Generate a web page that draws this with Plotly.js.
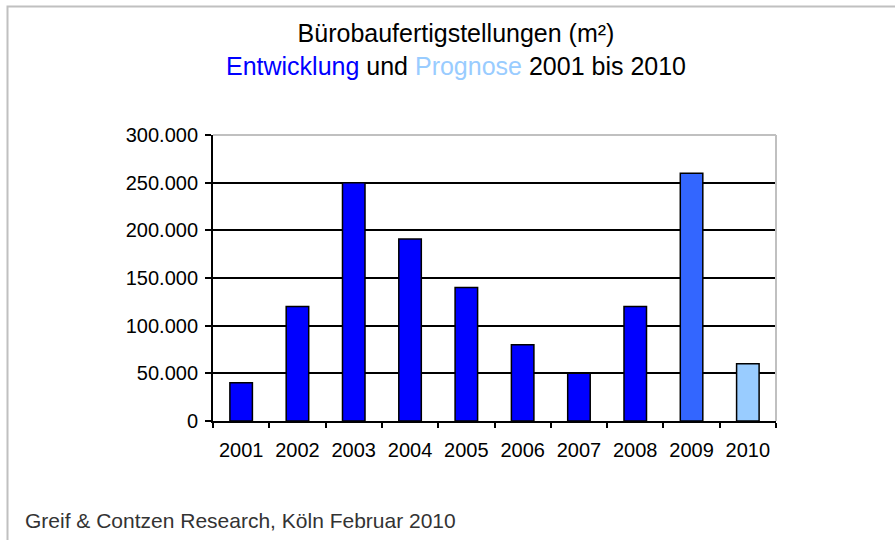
<!DOCTYPE html>
<html>
<head>
<meta charset="utf-8">
<script src="https://cdn.plot.ly/plotly-3.0.1.min.js"></script>
<style>html,body{margin:0;padding:0;background:#fff;}#chart{width:895px;height:540px;}</style>
</head>
<body>
<div id="chart"></div>
<script>
// Data
var years = ['2001','2002','2003','2004','2005','2006','2007','2008','2009','2010'];
var values = [40000, 120000, 250000, 191000, 140000, 80000, 50000, 120000, 260000, 60000];
var barColors = ['#0000FF','#0000FF','#0000FF','#0000FF','#0000FF','#0000FF','#0000FF','#0000FF','#3366FF','#99CCFF'];
var yTicks = [0, 50000, 100000, 150000, 200000, 250000, 300000];

var W = 895, H = 540;
var L = 213, R = 776, T = 135, B = 421;
var pw = R - L, ph = B - T;
function px(x){ return (x - L) / pw; }
function py(y){ return (B - y) / ph; }

var font = 'Liberation Sans, Arial, Helvetica, sans-serif';

var trace = {
  type: 'bar',
  x: years,
  y: values,
  marker: { color: barColors, line: { color: '#000000', width: 1.5 } },
  hoverinfo: 'x+y'
};

var layout = {
  width: W, height: H,
  margin: { l: L, r: W - R, t: T, b: H - B, pad: 0 },
  paper_bgcolor: '#ffffff',
  plot_bgcolor: '#ffffff',
  separators: ',.',
  showlegend: false,
  bargap: 0.6,
  font: { family: font, color: '#000000' },
  title: {
    text: 'Bürobaufertigstellungen (m²)<br><span style="color:#0000FF">Entwicklung</span> und <span style="color:#99CCFF">Prognose</span> 2001 bis 2010',
    font: { family: font, size: 25, color: '#000000' },
    xref: 'container', x: 456 / W, xanchor: 'center',
    yref: 'container', y: 1 - 42 / H, yanchor: 'top'
  },
  xaxis: {
    type: 'category',
    showline: true, linecolor: '#000000', linewidth: 2,
    ticks: 'outside', ticklen: 5, tickwidth: 2, tickcolor: '#000000',
    tickson: 'boundaries',
    showgrid: false, zeroline: false,
    tickfont: { family: font, size: 20, color: '#000000' },
    ticklabelstandoff: 10
  },
  yaxis: {
    range: [0, 300000],
    tickvals: yTicks,
    tickformat: ',d',
    showline: true, linecolor: '#000000', linewidth: 2,
    ticks: 'outside', ticklen: 6, tickwidth: 2, tickcolor: '#000000',
    showgrid: true, gridcolor: '#000000', gridwidth: 2,
    zeroline: false,
    tickfont: { family: font, size: 20, color: '#000000' },
    ticklabelstandoff: 3
  },
  shapes: [
    // outer frame (top + left visible)
    { type: 'rect', xref: 'paper', yref: 'paper', x0: px(7.5), x1: px(905), y0: py(550), y1: py(6.5),
      line: { color: '#C0C0C0', width: 2 }, fillcolor: 'rgba(0,0,0,0)', layer: 'above' },
    // plot area top border
    { type: 'line', xref: 'paper', yref: 'paper', x0: 0, x1: 1, y0: 1, y1: 1,
      line: { color: '#C0C0C0', width: 2 }, layer: 'above' },
    // plot area right border
    { type: 'line', xref: 'paper', yref: 'paper', x0: 1, x1: 1, y0: 0, y1: 1,
      line: { color: '#C0C0C0', width: 2 }, layer: 'above' }
  ],
  annotations: [
    { text: 'Greif & Contzen Research, Köln Februar 2010', xref: 'paper', yref: 'paper',
      x: px(23), xanchor: 'left', y: py(520), yanchor: 'middle', showarrow: false,
      font: { family: font, size: 21, color: '#333333' } }
  ]
};

Plotly.newPlot('chart', [trace], layout, { displayModeBar: false, staticPlot: true });
</script>
</body>
</html>
